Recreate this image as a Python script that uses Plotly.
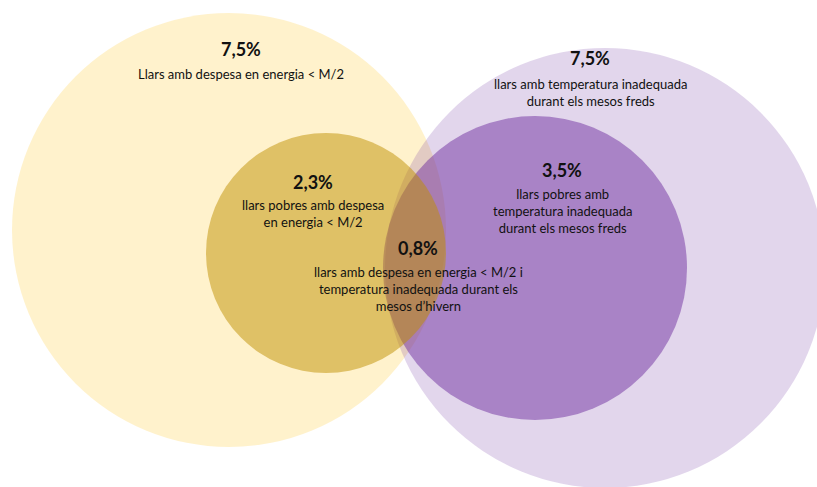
import plotly.graph_objects as go

# ---- data ----
values = [7.5, 7.5, 2.3, 3.5, 0.8]
labels = [
    "Llars amb despesa en energia &lt; M/2",
    "llars amb temperatura inadequada<br>durant els mesos freds",
    "llars pobres amb despesa<br>en energia &lt; M/2",
    "llars pobres amb<br>temperatura inadequada<br>durant els mesos freds",
    "llars amb despesa en energia &lt; M/2 i<br>temperatura inadequada durant els<br>mesos d’hivern",
]

# ---- layout (pixel space, y downwards) ----
W, H = 817, 487
# circles: (cx, cy, r, colour, opacity) in drawing order
circles = [
    (229, 230, 217, "rgb(255,192,0)", 0.2),
    (605, 268, 220, "rgb(112,48,160)", 0.2),
    (535, 268, 152, "rgb(112,48,160)", 0.5),
    (326, 253, 120, "rgb(191,144,0)", 0.5),
]
# label anchors: (x, y of percentage, y of first label line)
label_pos = [
    (241, 49, 72),
    (590, 58, 82),
    (313, 182, 203),
    (562, 170, 192),
    (418, 248, 270),
]

fig = go.Figure()
fig.add_trace(go.Scatter(x=[0, W], y=[0, H], mode="markers",
                         marker=dict(opacity=0), hoverinfo="skip", showlegend=False))

for cx, cy, r, col, op in circles:
    fig.add_shape(type="circle", xref="x", yref="y",
                  x0=cx - r, x1=cx + r, y0=cy - r, y1=cy + r,
                  fillcolor=col, opacity=op, line=dict(width=0), layer="below")

font_family = "Lato, 'Open Sans', sans-serif"
for v, lab, (x, yp, yl) in zip(values, labels, label_pos):
    pct = f"{v:.1f}".replace(".", ",") + "%"
    fig.add_annotation(x=x, y=yp, xref="x", yref="y", text=f"<b>{pct}</b>",
                       showarrow=False, xanchor="center", yanchor="middle",
                       font=dict(family=font_family, size=18, color="#111111"))
    fig.add_annotation(x=x, y=yl, xref="x", yref="y", text=lab,
                       showarrow=False, xanchor="center", yanchor="top",
                       yshift=8, align="center",
                       font=dict(family=font_family, size=13, color="#111111"))

fig.update_layout(
    width=W, height=H,
    margin=dict(l=0, r=0, t=0, b=0),
    paper_bgcolor="white", plot_bgcolor="white",
    xaxis=dict(range=[0, W], visible=False, fixedrange=True),
    yaxis=dict(range=[H, 0], visible=False, fixedrange=True),
    showlegend=False,
)

fig.write_html("out.html", config={"displayModeBar": False},
               post_script="document.body.style.margin='0';document.body.style.overflow='hidden';")
